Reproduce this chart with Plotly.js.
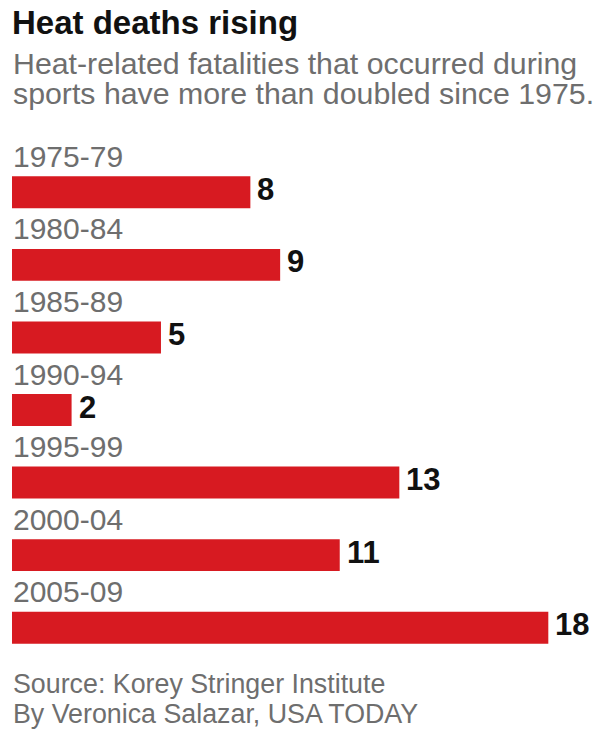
<!DOCTYPE html>
<html>
<head>
<meta charset="utf-8">
<script src="https://cdn.plot.ly/plotly-3.0.1.min.js"></script>
<style>
html,body{margin:0;padding:0;background:#fff;}
#chart{width:600px;height:733px;}
</style>
</head>
<body>
<div id="chart"></div>
<script>
const periods = ["1975-79","1980-84","1985-89","1990-94","1995-99","2000-04","2005-09"];
const deaths = [8, 9, 5, 2, 13, 11, 18];
const titleText = "Heat deaths rising";
const subtitleLines = ["Heat-related fatalities that occurred during", "sports have more than doubled since 1975."];
const sourceLines = ["Source: Korey Stringer Institute", "By Veronica Salazar, USA TODAY"];

const FONT = "Liberation Sans, Arial, sans-serif";
const RED = "#d71a21";
const GRAY = "#6e6e6e";

const H = 733, T = 155.7, B = 68.8;
const plotH = H - T - B;
function py(px){ return (H - B - px) / plotH; }

const trace = {
  type: "bar",
  orientation: "h",
  x: deaths,
  y: periods,
  width: 0.44,
  marker: {color: RED, line: {width: 0}},
  hoverinfo: "skip"
};

const annotations = [];
periods.forEach((p) => {
  annotations.push({
    xref: "x", yref: "y", x: 0, y: p,
    xanchor: "left", yanchor: "middle", yshift: 36, xshift: -1,
    text: p, showarrow: false,
    font: {family: FONT, size: 30, color: GRAY}
  });
});
deaths.forEach((v, i) => {
  annotations.push({
    xref: "x", yref: "y", x: v, y: periods[i],
    xanchor: "left", yanchor: "middle", xshift: 5, yshift: 3,
    text: "<b>" + v + "</b>", showarrow: false,
    font: {family: FONT, size: 31, color: "#111"}
  });
});
subtitleLines.forEach((line, i) => {
  annotations.push({
    xref: "paper", yref: "paper", x: 0, y: py(45 + 30 * i),
    xanchor: "left", yanchor: "top", align: "left", xshift: -1,
    text: line, showarrow: false,
    font: {family: FONT, size: 30.3, color: GRAY}
  });
});
sourceLines.forEach((line, i) => {
  annotations.push({
    xref: "paper", yref: "paper", x: 0, y: py(667 + 30 * i),
    xanchor: "left", yanchor: "top", align: "left", xshift: -1,
    text: line, showarrow: false,
    font: {family: FONT, size: 26.8, color: GRAY}
  });
});

const layout = {
  width: 600, height: 733,
  margin: {l: 12, r: 7, t: T, b: B, pad: 0},
  paper_bgcolor: "#fff", plot_bgcolor: "#fff",
  showlegend: false,
  title: {
    text: "<b>" + titleText + "</b>",
    xref: "container", yref: "container",
    x: 12/600, xanchor: "left",
    y: 1 - 11/733, yanchor: "top",
    font: {family: FONT, size: 33, color: "#111"}
  },
  xaxis: {range: [0, 19.5], visible: false, fixedrange: true},
  yaxis: {type: "category", range: [6.5, -0.5], visible: false, fixedrange: true},
  annotations: annotations
};

Plotly.newPlot("chart", [trace], layout, {displayModeBar: false, staticPlot: true});
</script>
</body>
</html>
